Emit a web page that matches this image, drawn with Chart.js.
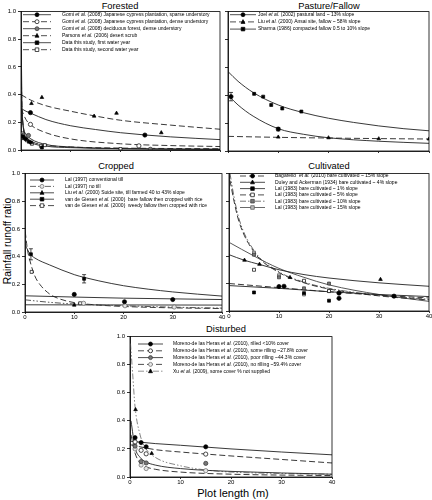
<!DOCTYPE html>
<html>
<head>
<meta charset="utf-8">
<script src="https://cdn.jsdelivr.net/npm/chart.js@4.4.1/dist/chart.umd.min.js"></script>
<style>
body { margin: 0; background: #fff; width: 432px; height: 500px; position: relative; overflow: hidden;
       font-family: "Liberation Sans", Arial, sans-serif; }
canvas { position: absolute; }
.t { position: absolute; font-size: 9.3px; color: #000; white-space: nowrap; transform: translate(-50%, -50%); }
.ylab { position: absolute; font-size: 10.3px; white-space: nowrap; transform: translate(-50%, -50%) rotate(-90deg); }
</style>
</head>
<body>
<div class="t" style="left:120px;top:6px">Forested</div>
<div class="t" style="left:329px;top:6px">Pasture/Fallow</div>
<div class="t" style="left:116px;top:166px">Cropped</div>
<div class="t" style="left:329px;top:166px">Cultivated</div>
<div class="t" style="left:226px;top:329px">Disturbed</div>
<div class="t" style="left:233px;top:493px;font-size:11px">Plot length (m)</div>
<div class="ylab" style="left:6.5px;top:241px">Rainfall runoff ratio</div>

<canvas id="forested"></canvas>
<canvas id="pasture"></canvas>
<canvas id="cropped"></canvas>
<canvas id="cultivated"></canvas>
<canvas id="disturbed"></canvas>

<script>
// ---- data: [plot length m, runoff ratio] ----

// Forested
var gomiSparsePts = [[1.9, 0.27], [24.9, 0.108]];
var gomiSparseFit = [[0, 0.30], [1, 0.28], [2, 0.265], [5, 0.22], [10, 0.175], [15, 0.148], [20, 0.125], [30, 0.095], [40, 0.075]];
var gomiDensePts = [[1.9, 0.185], [23.7, 0.03]];
var gomiDenseFit = [[0, 0.30], [1, 0.22], [2, 0.18], [5, 0.125], [10, 0.08], [20, 0.045], [30, 0.032], [40, 0.025]];
var gomiDecidPts = [[1.5, 0.105], [26, 0.005]];
var gomiDecidFit = [[0.1, 0.30], [0.5, 0.16], [1, 0.115], [2, 0.08], [5, 0.04], [10, 0.022], [20, 0.01], [40, 0.004]];
var parsonsPts = [[2.1, 0.336], [4.2, 0.38], [14.7, 0.245], [19.2, 0.266], [28.2, 0.125]];
var parsonsFit = [[0, 0.40], [2, 0.36], [5, 0.32], [10, 0.28], [15, 0.245], [20, 0.215], [30, 0.18], [40, 0.15]];
var year1Pts = [[0.4, 0.10], [0.6, 0.085], [1.0, 0.078], [1.6, 0.06], [2.0, 0.055], [4.2, 0.018]];
var year1Fit = [[0.05, 0.75], [0.2, 0.35], [0.5, 0.15], [1, 0.09], [2, 0.055], [5, 0.028], [10, 0.017], [20, 0.01], [40, 0.006]];
var year2Pts = [[0.3, 0.12], [0.5, 0.11], [1.2, 0.07], [2.2, 0.045], [4.0, 0.03], [4.8, 0.035], [20, 0.007]];
var year2Fit = [[0.05, 0.55], [0.2, 0.30], [0.5, 0.16], [1, 0.10], [2, 0.065], [5, 0.035], [10, 0.022], [20, 0.014], [40, 0.009]];

// Pasture/Fallow
var joelPts = [[0.6, 0.39], [10, 0.157]];
var joelErr = [0.03, 0.012];
var joelFit = [[0.3, 0.39], [2, 0.33], [5, 0.25], [10, 0.16], [15, 0.12], [20, 0.095], [30, 0.07], [40, 0.055]];
var liuAnsaiPts = [[10, 0.10], [20, 0.095], [30, 0.088], [40, 0.086]];
var liuAnsaiFit = [[0, 0.105], [10, 0.098], [20, 0.093], [30, 0.089], [40, 0.086]];
var sharmaPts = [[5.2, 0.41], [7, 0.39], [8.6, 0.33], [10.8, 0.305], [14.6, 0.283]];
var sharmaFit = [[0, 0.57], [2, 0.50], [5, 0.42], [10, 0.33], [15, 0.275], [20, 0.235], [25, 0.205], [30, 0.18], [35, 0.16], [40, 0.145]];

// Cropped
var lalConvPts = [[10, 0.127], [20.2, 0.074], [30, 0.09]];
var lalConvFit = [[0, 0.117], [10, 0.108], [20, 0.10], [30, 0.095], [40, 0.09]];
var lalNoTillPts = [[11.9, 0.063], [20.3, 0.045], [30.3, 0.036]];
var lalNoTillFit = [[0, 0.088], [5, 0.07], [10, 0.058], [20, 0.045], [30, 0.035], [40, 0.028]];
var liuSuidePts = [[10, 0.05]];
var liuSuideFit = [[0, 0.052], [40, 0.05]];
var giesenBarePts = [[1.2, 0.417], [12, 0.24]];
var giesenBareErr = [0.04, 0.03];
var giesenBareFit = [[0.1, 0.48], [1, 0.42], [2, 0.39], [5, 0.34], [10, 0.27], [12, 0.25], [15, 0.225], [20, 0.19], [30, 0.145], [40, 0.115]];
var giesenWeedyPts = [[1.35, 0.29], [11.2, 0.063]];
var giesenWeedyFit = [[0.05, 0.58], [0.5, 0.45], [1, 0.37], [2, 0.26], [3, 0.20], [5, 0.13], [7, 0.095], [10, 0.068], [15, 0.05], [20, 0.04], [30, 0.03], [40, 0.025]];

// Cultivated
var bagarelloPts = [[10, 0.178], [11, 0.18], [22, 0.13], [22, 0.092], [33, 0.108]];
var bagarelloFit = [[0, 0.20], [10, 0.17], [20, 0.14], [30, 0.115], [40, 0.095]];
var duleyPts = [[3.1, 0.37], [6.1, 0.34], [12.2, 0.244], [30.3, 0.23]];
var duleyFit = [[0, 0.41], [3, 0.37], [6, 0.34], [10, 0.30], [15, 0.265], [20, 0.24], [30, 0.205], [40, 0.18]];
var lal1Pts = [[5, 0.135], [15, 0.13], [20, 0.075]];
var lal1Fit = [[0, 0.185], [10, 0.165], [20, 0.14], [30, 0.12], [40, 0.105]];
var lal5Pts = [[5, 0.30], [15, 0.22], [20, 0.145]];
var lal5Fit = [[0.2, 0.95], [1, 0.80], [2, 0.65], [5, 0.43], [10, 0.28], [15, 0.205], [20, 0.16], [30, 0.11], [40, 0.08]];
var lal10Pts = [[5, 0.41], [10, 0.245], [15, 0.165], [20, 0.20]];
var lal10Fit = [[0.2, 1.0], [1, 0.83], [2, 0.67], [5, 0.44], [10, 0.285], [15, 0.21], [20, 0.165], [30, 0.115], [40, 0.085]];
var lal15Pts = [[5, 0.425], [10, 0.26], [15, 0.12], [20, 0.145]];
var lal15Fit = [[0, 0.50], [5, 0.40], [10, 0.31], [15, 0.245], [20, 0.19], [30, 0.12], [40, 0.07]];

// Disturbed
var rilledPts = [[1, 0.28], [2.2, 0.245], [3.2, 0.215], [15, 0.215]];
var rilledFit = [[0, 0.255], [5, 0.238], [10, 0.226], [20, 0.20], [30, 0.178], [40, 0.158]];
var someRillPts = [[1, 0.25], [2.2, 0.19], [3.2, 0.165], [15, 0.163]];
var someRillFit = [[0, 0.23], [5, 0.195], [10, 0.178], [20, 0.15], [30, 0.125], [40, 0.10]];
var poorRillPts = [[1, 0.22], [2.2, 0.11], [3.2, 0.10], [15, 0.097]];
var poorRillFit = [[0.2, 0.40], [1, 0.21], [2, 0.14], [3, 0.11], [5, 0.085], [10, 0.06], [20, 0.04], [40, 0.02]];
var noRillPts = [[1, 0.20], [2.2, 0.085], [3.2, 0.06], [15, 0.045]];
var noRillFit = [[0.2, 0.30], [1, 0.17], [2, 0.10], [3, 0.075], [5, 0.055], [10, 0.035], [20, 0.02], [40, 0.01]];
var xuPts = [[1.1, 0.48], [4.3, 0.168]];
var xuFit = [[0.1, 0.95], [0.5, 0.75], [1, 0.50], [2, 0.30], [3, 0.21], [5, 0.14], [10, 0.08], [15, 0.05], [20, 0.035], [30, 0.025], [40, 0.02]];

// ---- styles ----
var MK = {
    fc:  { ps: 'circle',   bg: '#000', bd: '#000' },
    oc:  { ps: 'circle',   bg: '#fff', bd: '#000' },
    gc:  { ps: 'circle',   bg: '#777', bd: '#333' },
    goc: { ps: 'circle',   bg: '#e6e6e6', bd: '#666' },
    tri: { ps: 'triangle', bg: '#000', bd: '#000' },
    fs:  { ps: 'rect',     bg: '#000', bd: '#000' },
    os:  { ps: 'rect',     bg: '#fff', bd: '#000' },
    gs:  { ps: 'rect',     bg: '#777', bd: '#333' },
    gos: { ps: 'rect',     bg: '#bbb', bd: '#555' }
};
var DASH = { solid: [], dash: [6, 3], dashdot: [6, 2, 1.5, 2, 1.5, 2] };

function marker(ctx, ps, x, y, r) {
    ctx.beginPath();
    if (ps === 'circle') {
        ctx.arc(x, y, r, 0, Math.PI * 2);
    } else if (ps === 'rect') {
        ctx.rect(x - r * 0.9, y - r * 0.9, r * 1.8, r * 1.8);
    } else {
        ctx.moveTo(x, y - r * 1.15);
        ctx.lineTo(x + r, y + r * 0.75);
        ctx.lineTo(x - r, y + r * 0.75);
        ctx.closePath();
    }
    ctx.fill();
    ctx.stroke();
}

function drawLabel(ctx, text, x, y) {
    var parts = text.split('et al.');
    parts.forEach(function (p, i) {
        ctx.font = '5px "Liberation Sans", Arial, sans-serif';
        ctx.fillText(p, x, y);
        x += ctx.measureText(p).width;
        if (i < parts.length - 1) {
            ctx.font = 'italic 5px "Liberation Sans", Arial, sans-serif';
            ctx.fillText('et al.', x, y);
            x += ctx.measureText('et al.').width;
        }
    });
}

var panelPlugin = {
    id: 'panelExtras',
    beforeDatasetsDraw: function (chart) {
        var ctx = chart.ctx, xs = chart.scales.x, ys = chart.scales.y;
        ctx.save();
        ctx.strokeStyle = '#000';
        ctx.lineWidth = 0.7;
        chart.data.datasets.forEach(function (ds) {
            if (!ds.errors) return;
            ds.data.forEach(function (p, j) {
                var e = ds.errors[j];
                if (!e) return;
                var x = xs.getPixelForValue(p.x);
                var y1 = ys.getPixelForValue(p.y + e), y2 = ys.getPixelForValue(p.y - e);
                ctx.beginPath();
                ctx.moveTo(x, y1); ctx.lineTo(x, y2);
                ctx.moveTo(x - 2, y1); ctx.lineTo(x + 2, y1);
                ctx.moveTo(x - 2, y2); ctx.lineTo(x + 2, y2);
                ctx.stroke();
            });
        });
        ctx.restore();
    },
    afterDraw: function (chart) {
        var ctx = chart.ctx, a = chart.chartArea;
        ctx.save();
        ctx.strokeStyle = '#000';
        ctx.lineWidth = 0.8;
        ctx.strokeRect(a.left, a.top, a.right - a.left, a.bottom - a.top);

        var lg = chart.options.plugins.panelLegend;
        ctx.textBaseline = 'middle';
        ctx.fillStyle = '#000';
        lg.items.forEach(function (s, i) {
            var y = lg.y + i * lg.dy;
            ctx.strokeStyle = s.lc || '#222';
            ctx.lineWidth = 0.8;
            ctx.setLineDash(DASH[s.dash]);
            ctx.beginPath();
            ctx.moveTo(lg.x0, y); ctx.lineTo(lg.x1, y);
            ctx.stroke();
            ctx.setLineDash([]);
            var m = MK[s.mk];
            ctx.fillStyle = m.bg; ctx.strokeStyle = m.bd; ctx.lineWidth = 0.7;
            marker(ctx, m.ps, (lg.x0 + lg.x1) / 2, y, 2);
            ctx.fillStyle = '#000';
            drawLabel(ctx, s.label, lg.tx, y);
        });
        ctx.restore();
    }
};

function panel(id, box, series, o) {
    var padL = 24, padT = 5, padR = 5, padB = 14;
    var cv = document.getElementById(id);
    var W = box.r - box.l + padL + padR, H = box.b - box.t + padT + padB;
    var offX = box.l - padL, offY = box.t - padT;
    cv.width = W; cv.height = H;
    cv.style.left = offX + 'px'; cv.style.top = offY + 'px';
    cv.style.width = W + 'px'; cv.style.height = H + 'px';

    var datasets = [];
    series.forEach(function (s) {
        datasets.push({
            data: s.fit.map(function (p) { return { x: p[0], y: p[1] }; }),
            showLine: true, pointRadius: 0, borderColor: s.lc || '#222', borderWidth: 0.9,
            borderDash: DASH[s.dash], cubicInterpolationMode: 'monotone', order: 2
        });
        var m = MK[s.mk];
        datasets.push({
            data: s.pts.map(function (p) { return { x: p[0], y: p[1] }; }),
            errors: s.err, showLine: false, pointStyle: m.ps, pointRadius: 2.1,
            backgroundColor: m.bg, borderColor: m.bd, borderWidth: 0.7, order: 1
        });
    });

    var tickFont = { size: 6, family: '"Liberation Sans", Arial, sans-serif' };
    new Chart(cv, {
        type: 'scatter',
        data: { datasets: datasets },
        options: {
            responsive: false,
            animation: false,
            devicePixelRatio: 1,
            layout: { padding: { top: padT, right: padR, left: 0, bottom: 0 } },
            plugins: {
                legend: { display: false },
                tooltip: { enabled: false },
                panelLegend: {
                    items: series,
                    x0: o.lg.x0 - offX, x1: o.lg.x1 - offX, tx: o.lg.tx - offX,
                    y: o.lg.y - offY, dy: o.lg.dy
                }
            },
            scales: {
                x: {
                    type: 'linear', min: 0, max: 40,
                    afterFit: function (s) { s.height = padB; },
                    ticks: {
                        stepSize: 10, font: tickFont, color: '#000', padding: 0, maxRotation: 0,
                        callback: function (v) { return o.xLabels ? v : ''; }
                    },
                    grid: { drawOnChartArea: false, tickLength: 2, color: '#000', lineWidth: 0.8 },
                    border: { color: '#000', width: 0.8 }
                },
                y: {
                    min: 0, max: 1,
                    afterFit: function (s) { s.width = padL; },
                    ticks: {
                        stepSize: 0.2, font: tickFont, color: '#000', padding: 2,
                        callback: function (v) { return o.yLabels ? v.toFixed(1) : ''; }
                    },
                    grid: { drawOnChartArea: false, tickLength: 3, color: '#000', lineWidth: 0.8 },
                    border: { color: '#000', width: 0.8 }
                }
            }
        },
        plugins: [panelPlugin]
    });
}

panel('forested', { l: 21, t: 11, r: 220, b: 150 }, [
    { label: 'Gomi et al. (2008) Japanese cypress plantation, sparse understory', pts: gomiSparsePts, fit: gomiSparseFit, mk: 'fc', dash: 'solid' },
    { label: 'Gomi et al. (2008) Japanese cypress plantation, dense understory', pts: gomiDensePts, fit: gomiDenseFit, mk: 'oc', dash: 'dash' },
    { label: 'Gomi et al. (2008) deciduous forest, dense understory', pts: gomiDecidPts, fit: gomiDecidFit, mk: 'gc', dash: 'solid' },
    { label: 'Parsons et al. (2006) desert scrub', pts: parsonsPts, fit: parsonsFit, mk: 'tri', dash: 'dash' },
    { label: 'Data this study, first water year', pts: year1Pts, fit: year1Fit, mk: 'fs', dash: 'solid' },
    { label: 'Data this study, second water year', pts: year2Pts, fit: year2Fit, mk: 'os', dash: 'dash' }
], { yLabels: true, xLabels: false, lg: { x0: 23, x1: 51, tx: 62, y: 14.7, dy: 7 } });

panel('pasture', { l: 228, t: 11, r: 429, b: 151 }, [
    { label: 'Joel et al. (2002) pastural land ~ 13% slope', pts: joelPts, err: joelErr, fit: joelFit, mk: 'fc', dash: 'solid' },
    { label: 'Liu et al. (2000) Ansai site, fallow ~ 58% slope', pts: liuAnsaiPts, fit: liuAnsaiFit, mk: 'tri', dash: 'dash' },
    { label: 'Sharma (1986) compacted fallow 0.5 to 10% slope', pts: sharmaPts, fit: sharmaFit, mk: 'fs', dash: 'solid' }
], { yLabels: false, xLabels: false, lg: { x0: 230, x1: 256, tx: 258, y: 14.7, dy: 7.2 } });

panel('cropped', { l: 25, t: 173, r: 222, b: 312 }, [
    { label: 'Lal (1997) conventional till', pts: lalConvPts, fit: lalConvFit, mk: 'fc', dash: 'solid' },
    { label: 'Lal (1997) no till', pts: lalNoTillPts, fit: lalNoTillFit, mk: 'goc', dash: 'dashdot', lc: '#444' },
    { label: 'Liu et al. (2000) Suide site, till farmed 40 to 43% slope', pts: liuSuidePts, fit: liuSuideFit, mk: 'tri', dash: 'solid' },
    { label: 'van de Giesen et al. (2000)  bare fallow then cropped with rice', pts: giesenBarePts, err: giesenBareErr, fit: giesenBareFit, mk: 'fs', dash: 'solid' },
    { label: 'van de Giesen et al. (2000)  weedy fallow then cropped with rice', pts: giesenWeedyPts, fit: giesenWeedyFit, mk: 'os', dash: 'dash' }
], { yLabels: true, xLabels: true, lg: { x0: 30, x1: 54, tx: 65, y: 180, dy: 6.4 } });

panel('cultivated', { l: 229, t: 173, r: 429, b: 311 }, [
    { label: 'Bagarello  et al. (2010) bare cultivated ~ 15% slope', pts: bagarelloPts, fit: bagarelloFit, mk: 'fc', dash: 'dash' },
    { label: 'Duley and Ackerman (1934) bare cultivated ~ 4% slope', pts: duleyPts, fit: duleyFit, mk: 'tri', dash: 'solid' },
    { label: 'Lal (1983) bare cultivated ~ 1% slope', pts: lal1Pts, fit: lal1Fit, mk: 'fs', dash: 'solid' },
    { label: 'Lal (1983) bare cultivated ~ 5% slope', pts: lal5Pts, fit: lal5Fit, mk: 'os', dash: 'dash' },
    { label: 'Lal (1983) bare cultivated ~ 10% slope', pts: lal10Pts, fit: lal10Fit, mk: 'gs', dash: 'dashdot', lc: '#555' },
    { label: 'Lal (1983) bare cultivated ~ 15% slope', pts: lal15Pts, fit: lal15Fit, mk: 'gos', dash: 'solid', lc: '#444' }
], { yLabels: false, xLabels: true, lg: { x0: 240, x1: 265, tx: 275, y: 176, dy: 6.3 } });

panel('disturbed', { l: 130, t: 336, r: 332, b: 477 }, [
    { label: 'Moreno-de las Heras et al. (2010), rilled <10% cover', pts: rilledPts, fit: rilledFit, mk: 'fc', dash: 'solid' },
    { label: 'Moreno-de las Heras et al. (2010), some rilling ~27.8% cover', pts: someRillPts, fit: someRillFit, mk: 'oc', dash: 'dash' },
    { label: 'Moreno-de las Heras et al. (2010), poor rilling ~44.3% cover', pts: poorRillPts, fit: poorRillFit, mk: 'gc', dash: 'solid' },
    { label: 'Moreno-de las Heras et al. (2010), no rilling ~59.4% cover', pts: noRillPts, fit: noRillFit, mk: 'goc', dash: 'dash' },
    { label: 'Xu et al. (2009), some cover % not supplied', pts: xuPts, fit: xuFit, mk: 'tri', dash: 'dashdot', lc: '#777' }
], { yLabels: true, xLabels: true, lg: { x0: 138, x1: 163, tx: 173, y: 344, dy: 6.8 } });
</script>
</body>
</html>
